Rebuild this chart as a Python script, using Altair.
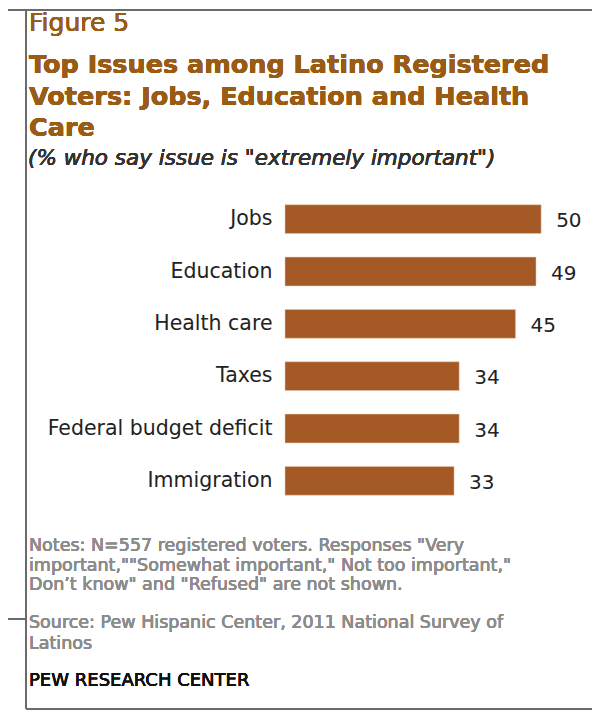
import altair as alt
import pandas as pd

issues = ["Jobs", "Education", "Health care", "Taxes", "Federal budget deficit", "Immigration"]
values = [50, 49, 45, 34, 34, 33]

title_lines = ["Top Issues among Latino Registered", "Voters: Jobs, Education and Health", "Care"]
figure_label = "Figure 5"
subtitle = '(% who say issue is "extremely important")'
notes_lines = [
    'Notes: N=557  registered voters. Responses "Very',
    'important,""Somewhat important," Not too important,"',
    'Don\u2019t know"  and "Refused" are not shown.',
]
source_lines = ["Source: Pew Hispanic Center, 2011 National Survey of", "Latinos"]
credit = "PEW RESEARCH CENTER"

df = pd.DataFrame({"issue": issues, "pct": values})

BAR = "#A55A26"
BROWN = "#9A5B15"

# page coordinates of the plot-area origin
X0, Y0 = 285, 193


def txt(s, x, y, size, color, weight="normal", style="normal", font="DejaVu Sans"):
    return alt.Chart(df).mark_text(
        text=s, align="left", baseline="alphabetic", fontSize=size, color=color,
        fontWeight=weight, fontStyle=style, font=font,
    ).encode(x=alt.value(x - X0), y=alt.value(y - Y0))


def hrule(x1, x2, y):
    return alt.Chart(df).mark_rule(color="#6b6b6b", strokeWidth=1.5).encode(
        x=alt.value(x1 - X0), x2=alt.value(x2 - X0), y=alt.value(y - Y0))


def vrule(x, y1, y2):
    return alt.Chart(df).mark_rule(color="#6b6b6b", strokeWidth=1.5).encode(
        x=alt.value(x - X0), y=alt.value(y1 - Y0), y2=alt.value(y2 - Y0))


base = alt.Chart(df)
y_enc = alt.Y(
    "issue:N", sort=issues,
    scale=alt.Scale(paddingInner=0.45, paddingOuter=0.225),
    axis=alt.Axis(title=None, ticks=False, domain=False, labelFontSize=20.5,
                  labelColor="#222222", labelPadding=13, labelFont="DejaVu Sans",
                  labelLimit=400),
)
x_enc = alt.X("pct:Q", scale=alt.Scale(domain=[0, 57]), axis=None)

bars = base.mark_bar(color=BAR, stroke="#e8c8b0", strokeWidth=0.5).encode(x=x_enc, y=y_enc)
labels = base.mark_text(align="left", dx=15, dy=2, fontSize=20, color="#222222",
                        font="DejaVu Sans").encode(x=x_enc, y=y_enc, text="pct:Q")

layers = [bars, labels]
layers.append(txt(figure_label, 29, 31, 25, BROWN))
for i, line in enumerate(title_lines):
    layers.append(txt(line, 29, 73 + 31.5 * i, 25.5, BROWN, weight="bold"))
layers.append(txt(subtitle, 28, 165, 21.5, "#333333", style="italic"))
for i, line in enumerate(notes_lines):
    layers.append(txt(line, 29, 551 + 19.5 * i, 17.5, "#8c8c8c"))
for i, line in enumerate(source_lines):
    layers.append(txt(line, 29, 628 + 21 * i, 17.5, "#8c8c8c"))
layers.append(txt(credit, 29, 686, 18, "#111111"))

# frame
layers += [
    hrule(8, 595, 10),
    vrule(26, 10, 709),
    vrule(595, 10, 709),
    hrule(26, 595, 709),
    hrule(8, 26, 619),
]

chart = alt.layer(*layers).properties(
    width=292, height=314,
    autosize=alt.AutoSizeParams(type="none"),
    padding={"left": 277, "top": 185, "right": 15, "bottom": 203},
).configure_view(stroke=None)

chart.save("out.html", embed_options={"renderer": "svg", "actions": False})
